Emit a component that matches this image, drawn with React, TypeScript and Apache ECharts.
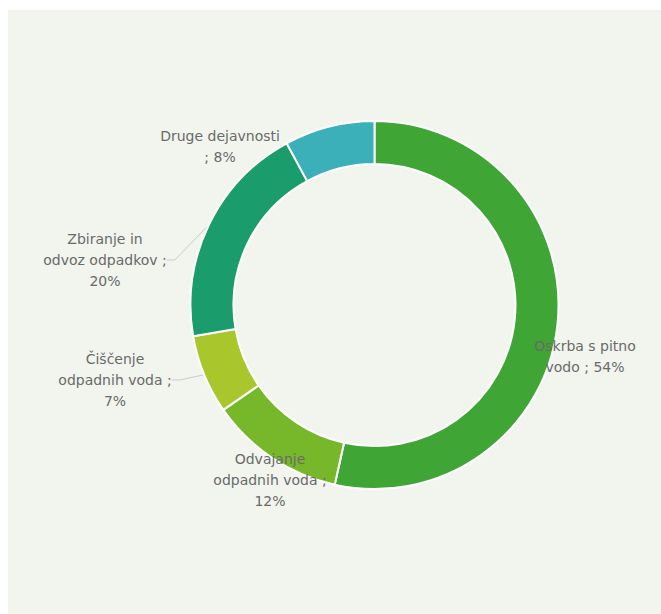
import React, { useEffect, useRef } from "react";
import * as echarts from "echarts";

const categories = [
  "Oskrba s pitno\nvodo",
  "Odvajanje\nodpadnih voda",
  "Čiščenje\nodpadnih voda",
  "Zbiranje in\nodvoz odpadkov",
  "Druge dejavnosti",
];
const percentages = [54, 12, 7, 20, 8];
const sliceColors = ["#3fa535", "#77b82a", "#a9c72c", "#1a9c6c", "#3bb0b8"];
// label text layout: separator placement per category
const labelTemplates = [
  "{name} ; {value}%",
  "{name} ;\n{value}%",
  "{name} ;\n{value}%",
  "{name} ;\n{value}%",
  "{name}\n; {value}%",
];
const labelPositions: [number, number][] = [
  [577, 346],
  [262, 470],
  [107, 370],
  [97, 250],
  [212, 136],
];
const showLeader = [false, true, true, true, true];

export default function App() {
  const ref = useRef<HTMLDivElement>(null);
  useEffect(() => {
    if (!ref.current) return;
    const chart = echarts.init(ref.current, null, { renderer: "svg" });
    chart.setOption({
      animation: false,
      backgroundColor: "#f1f5ee",
      series: [
        {
          type: "pie",
          center: [366.5, 295],
          radius: [141, 184],
          startAngle: 90,
          clockwise: true,
          avoidLabelOverlap: false,
          itemStyle: { borderColor: "#ffffff", borderWidth: 2 },
          label: {
            show: true,
            position: "outside",
            color: "#6a6a6a",
            fontFamily: "DejaVu Sans",
            fontSize: 14,
            lineHeight: 21,
            align: "center",
            formatter: (p: any) =>
              labelTemplates[p.dataIndex]
                .replace("{name}", p.name)
                .replace("{value}", String(p.value)),
          },
          labelLayout: (params: any) => {
            const pos = labelPositions[params.dataIndex];
            return { x: pos[0], y: pos[1], align: "center", verticalAlign: "middle" };
          },
          data: categories.map((name, i) => ({
            name,
            value: percentages[i],
            itemStyle: { color: sliceColors[i] },
            labelLine: {
              show: showLeader[i],
              length: 8,
              length2: 8,
              lineStyle: { color: "#c8ccc6", width: 1 },
            },
          })),
        },
      ],
    });
    return () => chart.dispose();
  }, []);
  return (
    <div
      ref={ref}
      style={{ position: "absolute", left: 8, top: 10, width: 653, height: 604 }}
    />
  );
}
